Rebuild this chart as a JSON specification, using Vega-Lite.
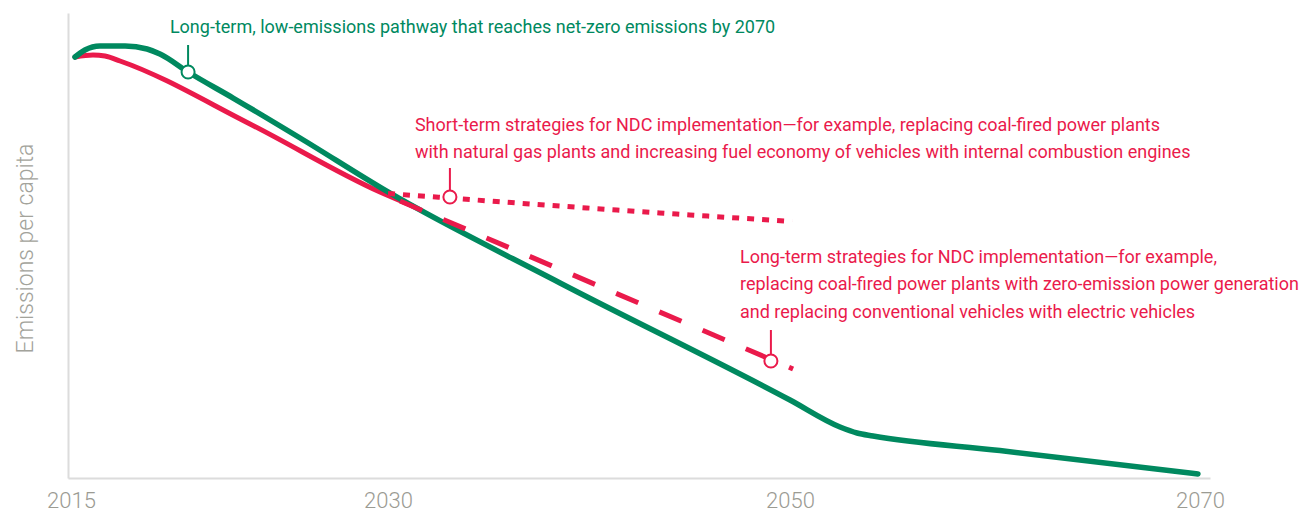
{
  "$schema": "https://vega.github.io/schema/vega-lite/v6.json",
  "width": 1142,
  "height": 465,
  "autosize": "none",
  "padding": {"left": 68, "top": 13, "right": 94, "bottom": 36},
  "background": "white",
  "config": {"view": {"stroke": null}, "font": "Roboto"},
  "datasets": {
    "lines": [
      {"series": "ndc", "year": 2015.19, "value": 90.54},
      {"series": "ndc", "year": 2016.04, "value": 90.97},
      {"series": "ndc", "year": 2016.61, "value": 90.75},
      {"series": "ndc", "year": 2017.32, "value": 89.68},
      {"series": "ndc", "year": 2023.47, "value": 76.13},
      {"series": "ndc", "year": 2029.62, "value": 61.51},
      {"series": "ndc", "year": 2031.24, "value": 58.49},
      {"series": "pathway", "year": 2015.19, "value": 90.54},
      {"series": "pathway", "year": 2015.66, "value": 92.04},
      {"series": "pathway", "year": 2016.37, "value": 92.9},
      {"series": "pathway", "year": 2017.56, "value": 92.9},
      {"series": "pathway", "year": 2018.6, "value": 92.26},
      {"series": "pathway", "year": 2019.21, "value": 91.18},
      {"series": "pathway", "year": 2020.54, "value": 87.31},
      {"series": "pathway", "year": 2022.67, "value": 81.72},
      {"series": "pathway", "year": 2025.84, "value": 73.12},
      {"series": "pathway", "year": 2030.0, "value": 61.51},
      {"series": "pathway", "year": 2038.56, "value": 41.94},
      {"series": "pathway", "year": 2050.0, "value": 16.77},
      {"series": "pathway", "year": 2052.44, "value": 10.97},
      {"series": "pathway", "year": 2053.27, "value": 9.68},
      {"series": "pathway", "year": 2054.05, "value": 9.03},
      {"series": "pathway", "year": 2060.24, "value": 5.91},
      {"series": "pathway", "year": 2069.9, "value": 0.86},
      {"series": "long-term", "year": 2030.6, "value": 59.57},
      {"series": "long-term", "year": 2050.15, "value": 23.44},
      {"series": "short-term", "year": 2030.0, "value": 61.18},
      {"series": "short-term", "year": 2041.39, "value": 57.63},
      {"series": "short-term", "year": 2050.1, "value": 55.16}
    ],
    "markers": [
      {"group": "pathway", "year": 2020.54, "value": 87.31, "value2": 93.12},
      {"group": "ndc", "year": 2033.08, "value": 60.43, "value2": 66.67},
      {"group": "ndc", "year": 2049.05, "value": 25.16, "value2": 31.83}
    ],
    "labels": [
      {"group": "pathway", "year": 2019.68, "value": 95.7, "text": "Long-term, low-emissions pathway that reaches net-zero emissions by 2070"},
      {"group": "ndc", "year": 2031.34, "value": 74.62, "text": "Short-term strategies for NDC implementation—for example, replacing coal-fired power plants"},
      {"group": "ndc", "year": 2031.34, "value": 68.82, "text": "with natural gas plants and increasing fuel economy of vehicles with internal combustion engines"},
      {"group": "ndc", "year": 2047.51, "value": 46.24, "text": "Long-term strategies for NDC implementation—for example,"},
      {"group": "ndc", "year": 2047.51, "value": 40.43, "text": "replacing coal-fired power plants with zero-emission power generation"},
      {"group": "ndc", "year": 2047.51, "value": 34.41, "text": "and replacing conventional vehicles with electric vehicles"}
    ]
  },
  "encoding": {
    "x": {
      "field": "year",
      "type": "quantitative",
      "scale": {"domain": [2014.858, 2030, 2050, 2070.488], "range": [0, 320, 722, 1142], "nice": false, "zero": false},
      "axis": {
        "values": [2015, 2030, 2050, 2070],
        "format": "d",
        "title": null,
        "ticks": false,
        "grid": false,
        "domainColor": "#dcdcdc",
        "domainWidth": 2,
        "labelFont": "Roboto",
        "labelFontSize": 22,
        "labelFontWeight": 300,
        "labelColor": "#9b9b93",
        "labelPadding": 12,
        "labelFlush": false
      }
    },
    "y": {
      "field": "value",
      "type": "quantitative",
      "scale": {"domain": [0, 100], "nice": false, "zero": false},
      "axis": {
        "title": "Emissions per capita",
        "ticks": false,
        "labels": false,
        "grid": false,
        "domainColor": "#dcdcdc",
        "domainWidth": 2,
        "titleFont": "Roboto",
        "titleFontSize": 23,
        "titleFontWeight": 300,
        "titleColor": "#a3a39b",
        "titleX": -43,
        "titleY": 235,
        "titleAngle": -90,
        "titleAlign": "center",
        "titleBaseline": "middle"
      }
    }
  },
  "layer": [
    {
      "data": {"name": "lines"},
      "transform": [{"filter": "datum.series === 'ndc'"}],
      "mark": {"type": "line", "color": "#ea1a4b", "strokeWidth": 5, "interpolate": "monotone", "strokeCap": "round"}
    },
    {
      "data": {"name": "lines"},
      "transform": [{"filter": "datum.series === 'pathway'"}],
      "mark": {"type": "line", "color": "#00895f", "strokeWidth": 5.5, "interpolate": "monotone", "strokeCap": "round"}
    },
    {
      "data": {"name": "lines"},
      "transform": [{"filter": "datum.series === 'long-term'"}],
      "mark": {"type": "line", "color": "#ea1a4b", "strokeWidth": 5, "strokeDash": [24, 23], "strokeCap": "butt"}
    },
    {
      "data": {"name": "lines"},
      "transform": [{"filter": "datum.series === 'short-term'"}],
      "mark": {"type": "line", "color": "#ea1a4b", "strokeWidth": 5, "strokeDash": [7, 8], "strokeCap": "butt", "interpolate": "monotone"}
    },
    {
      "data": {"name": "markers"},
      "mark": {"type": "rule", "strokeWidth": 2},
      "encoding": {
        "y2": {"field": "value2"},
        "color": {"field": "group", "type": "nominal", "scale": {"domain": ["pathway", "ndc"], "range": ["#00895f", "#ea1a4b"]}, "legend": null}
      }
    },
    {
      "data": {"name": "markers"},
      "mark": {"type": "point", "shape": "circle", "filled": false, "fill": "white", "fillOpacity": 1, "opacity": 1, "size": 170, "strokeWidth": 2},
      "encoding": {
        "stroke": {"field": "group", "type": "nominal", "scale": {"domain": ["pathway", "ndc"], "range": ["#00895f", "#ea1a4b"]}, "legend": null}
      }
    },
    {
      "data": {"name": "labels"},
      "mark": {"type": "text", "align": "left", "baseline": "alphabetic", "fontSize": 18, "font": "Roboto"},
      "encoding": {
        "text": {"field": "text"},
        "color": {"field": "group", "type": "nominal", "scale": {"domain": ["pathway", "ndc"], "range": ["#00895f", "#ea1a4b"]}, "legend": null}
      }
    }
  ]
}
